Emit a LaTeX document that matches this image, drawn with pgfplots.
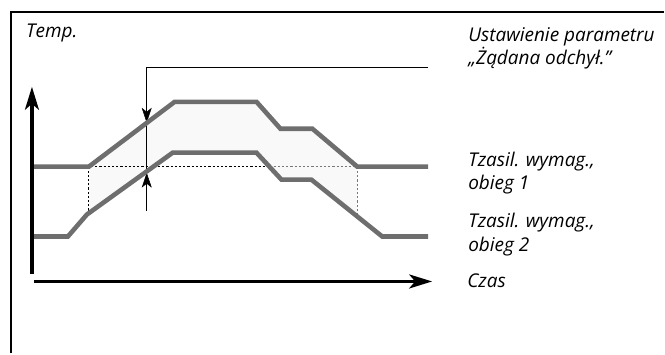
\documentclass[border=0pt]{standalone}
\usepackage{pgfplots}
\pgfplotsset{compat=1.18}
\usepackage{fontspec}
\setmainfont{Open Sans}
\usetikzlibrary{arrows.meta}
\definecolor{linegray}{RGB}{110,110,110}
\definecolor{fillgray}{RGB}{249,249,249}
\definecolor{thin}{RGB}{50,50,50}
\definecolor{dotgray}{RGB}{120,120,120}
\begin{document}
\begin{tikzpicture}
\begin{axis}[
  scale only axis, width=665bp, height=354bp,
  xmin=0, xmax=665, ymin=0, ymax=354, y dir=reverse,
  hide axis, clip=false,
  every axis plot/.append style={line cap=butt},
]
\path (axis cs:0,0) rectangle (axis cs:665,354);
% frame
\addplot[black, line width=2.6bp] coordinates {(11,354) (11,12) (665,12)};
% fill between the two supply curves
\addplot[draw=none, fill=fillgray] coordinates {
 (89,167) (175,102) (257,102) (281,129) (313,129) (358,167)
 (358,217) (312,180) (282,180) (257,153) (173,153) (89,213.6)} -- cycle;
% dashed reference lines
\addplot[black, line width=0.9bp, dash pattern=on 2.2bp off 2bp] coordinates {(89,211) (89,167) (270,167)};
\addplot[dotgray, line width=0.9bp, dash pattern=on 2.2bp off 2bp] coordinates {(270,167) (358,167) (358,214)};
% setpoint indicator
\addplot[thin, line width=0.9bp] coordinates {(429,68) (147,68) (147,211)};
\addplot[black, line width=0.5bp, -{Stealth[length=15bp,width=10bp,inset=4bp]}] coordinates {(147,106) (147,123)};
\addplot[black, line width=0.5bp, -{Stealth[length=15bp,width=10bp,inset=4bp]}] coordinates {(147,190) (147,173)};
% supply temperature curves
\addplot[linegray, line width=4.6bp] coordinates {
 (33,167) (89,167) (175,102) (257,102) (281,129) (313,129) (358,167) (429,167)};
\addplot[linegray, line width=4.6bp] coordinates {
 (33,237) (68,237) (87,215) (173,153) (257,153) (282,180) (312,180) (383,237) (429,237)};
% axes arrows
\addplot[black, line width=3.2bp, -{Stealth[length=23bp,width=14bp,inset=6bp]}] coordinates {(32,275) (32,87)};
\addplot[black, line width=3.2bp, -{Stealth[length=23bp,width=14bp,inset=6bp]}] coordinates {(34,282) (433,282)};
% texts
\begin{scope}[every node/.style={anchor=base west, inner sep=0pt, font=\fontsize{19bp}{22bp}\selectfont\itshape}]
\node at (axis cs:26,38) {Temp.};
\node at (axis cs:469,42) {Ustawienie parametru};
\node at (axis cs:469,65) {„Żądana odchył.”};
\node at (axis cs:469,167) {Tzasil. wymag.,};
\node at (axis cs:469,190) {obieg 1};
\node at (axis cs:469,228) {Tzasil. wymag.,};
\node at (axis cs:469,252) {obieg 2};
\node at (axis cs:468,288) {Czas};
\end{scope}
\end{axis}
\end{tikzpicture}
\end{document}
